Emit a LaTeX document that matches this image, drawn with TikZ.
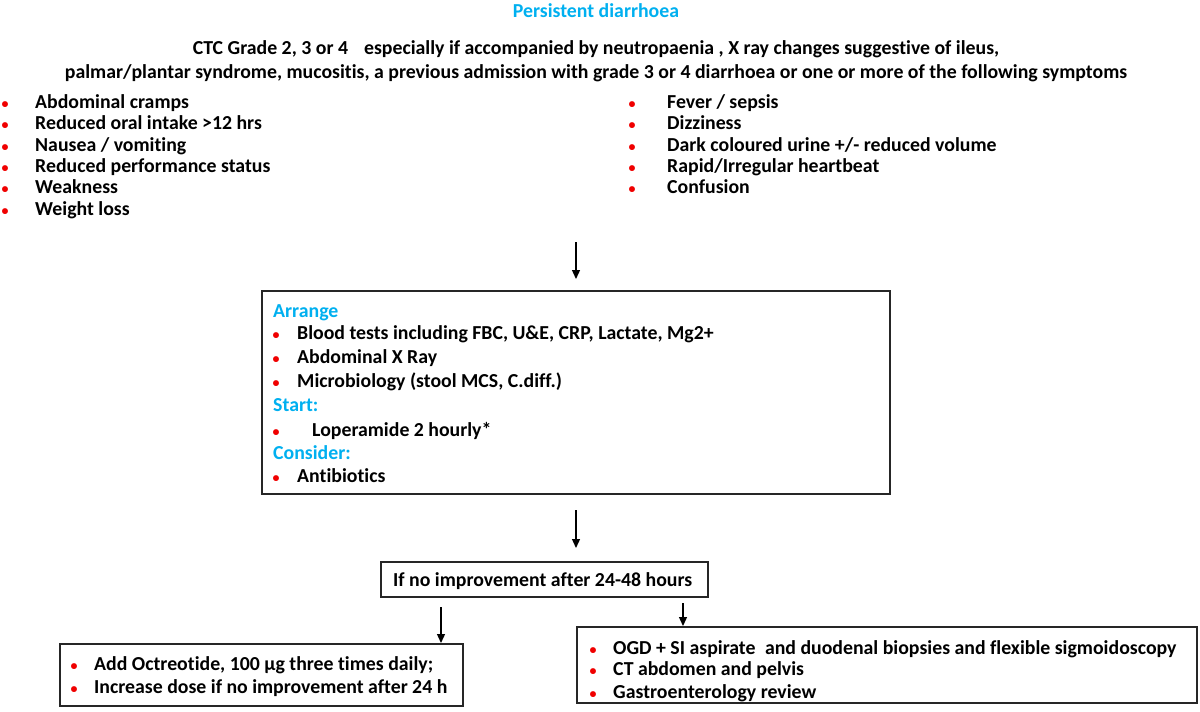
\documentclass[tikz,border=0pt]{standalone}
\usepackage{fontspec}
\setmainfont{Carlito}[Ligatures=NoCommon]
\usetikzlibrary{arrows.meta}
\definecolor{hblue}{HTML}{00B0F0}
\definecolor{bred}{HTML}{F00000}
\newcommand{\bitem}[2]{\makebox[0pt]{\textcolor{bred}{\fontsize{14}{14}\selectfont\textbullet}}\hspace{#1pt}#2}
\tikzset{
  txt/.style={anchor=base west, inner sep=0pt, yshift=-1pt, font=\fontsize{19.8}{22}\selectfont\bfseries},
  ctxt/.style={anchor=base, inner sep=0pt, yshift=-1pt, font=\fontsize{19.8}{22}\selectfont\bfseries},
  head/.style={txt, text=hblue},
  boxx/.style={draw=black!85, line width=1.2pt, inner sep=0pt, outer sep=0pt, anchor=north west},
  arr/.style={line width=1.3pt, -{Triangle[width=8pt,length=9pt]}}
}
\begin{document}
\begin{tikzpicture}[x=1pt,y=-1pt]
\useasboundingbox[fill=white] (0,0) rectangle (1200,712);
% title and header
\node[ctxt, text=hblue] (title) at (596,16.5) {Persistent diarrhoea};
\node[ctxt] (ctc1) at (596,53.5) {CTC Grade 2, 3 or 4\hspace{16pt}especially if accompanied by neutropaenia , X ray changes suggestive of ileus,};
\node[ctxt] (ctc2) at (596,77.5) {palmar/plantar syndrome, mucositis, a previous admission with grade 3 or 4 diarrhoea or one or more of the following symptoms};
% left symptom list
\node[txt] (l1) at (5,107.5) {\bitem{30}{Abdominal cramps}};
\node[txt] (l2) at (5,128.5) {\bitem{30}{Reduced oral intake >12 hrs}};
\node[txt] (l3) at (5,150.5) {\bitem{30}{Nausea / vomiting}};
\node[txt] (l4) at (5,171.5) {\bitem{30}{Reduced performance status}};
\node[txt] (l5) at (5,192.5) {\bitem{30}{Weakness}};
\node[txt] (l6) at (5,214.5) {\bitem{30}{Weight loss}};
% right symptom list
\node[txt] (r1) at (632,107.5) {\bitem{35}{Fever / sepsis}};
\node[txt] (r2) at (632,128.5) {\bitem{35}{Dizziness}};
\node[txt] (r3) at (632,150.5) {\bitem{35}{Dark coloured urine +/- reduced volume}};
\node[txt] (r4) at (632,171.5) {\bitem{35}{Rapid/Irregular heartbeat}};
\node[txt] (r5) at (632,192.5) {\bitem{35}{Confusion}};
% box 1
\node[boxx, minimum width=628pt, minimum height=203pt] (b1) at (262,291) {};
\node[head] (h1) at (273,316.5) {Arrange};
\node[txt] (b1a) at (276,338.5) {\bitem{21}{Blood tests including FBC, U\&E, CRP, Lactate, Mg2+}};
\node[txt] (b1b) at (276,362.5) {\bitem{21}{Abdominal X Ray}};
\node[txt] (b1c) at (276,386.5) {\bitem{21}{Microbiology (stool MCS, C.diff.)}};
\node[head] (h2) at (273,410.5) {Start:};
\node[txt] (b1d) at (276,435.5) {\bitem{36}{Loperamide 2 hourly*}};
\node[head] (h3) at (273,458.5) {Consider:};
\node[txt] (b1e) at (276,481.5) {\bitem{21}{Antibiotics}};
% box if
\node[boxx, minimum width=327pt, minimum height=35pt] (bif) at (381,562) {};
\node[txt] (tif) at (393,585.5) {If no improvement after 24-48 hours};
% left box
\node[boxx, minimum width=403pt, minimum height=62pt] (bl) at (60,644) {};
\node[txt] (bl1) at (74,669.5) {\bitem{20}{Add Octreotide, 100 µg three times daily;}};
\node[txt] (bl2) at (74,692.5) {\bitem{20}{Increase dose if no improvement after 24 h}};
% right box
\node[boxx, minimum width=620pt, minimum height=76pt] (br) at (577,627) {};
\node[txt] (br1) at (593,653.5) {\bitem{20}{OGD + SI aspirate\hspace{5pt} and duodenal biopsies and flexible sigmoidoscopy}};
\node[txt] (br2) at (593,674.5) {\bitem{20}{CT abdomen and pelvis}};
\node[txt] (br3) at (593,697.5) {\bitem{20}{Gastroenterology review}};
% arrows
\coordinate (a1s) at (576,242);
\coordinate (a1e) at (576,279);
\coordinate (a2s) at (576,510);
\coordinate (a2e) at (576,548);
\coordinate (a3s) at (441,607);
\coordinate (a3e) at (441,643);
\coordinate (a4s) at (683,603);
\coordinate (a4e) at (683,626);
\draw[arr] (a1s) -- (a1e);
\draw[arr] (a2s) -- (a2e);
\draw[arr] (a3s) -- (a3e);
\draw[arr] (a4s) -- (a4e);
\end{tikzpicture}
\end{document}
